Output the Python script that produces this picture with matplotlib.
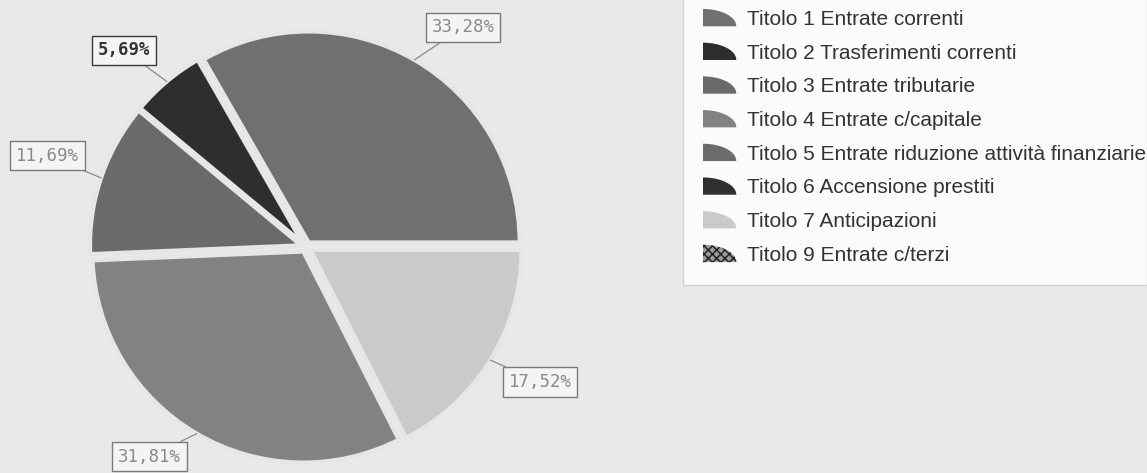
import matplotlib
matplotlib.use("Agg")
import matplotlib.pyplot as plt
from matplotlib.patches import Polygon, Patch, Rectangle
from matplotlib.legend_handler import HandlerPatch
import numpy as np

# dati
titoli = ["Titolo 1 Entrate correnti",
          "Titolo 2 Trasferimenti correnti",
          "Titolo 3 Entrate tributarie",
          "Titolo 4 Entrate c/capitale",
          "Titolo 5 Entrate riduzione attività finanziarie",
          "Titolo 6 Accensione prestiti",
          "Titolo 7 Anticipazioni",
          "Titolo 9 Entrate c/terzi"]
percentuali = [33.28, 5.69, 11.69, 31.81, 0.0, 0.0, 17.52, 0.0]
colori = ["#707070", "#2e2e2e", "#6a6a6a", "#828282", "#6c6c6c", "#303030", "#cacaca", "#5a5a5a"]

# spostamento etichette (gradi) e distanza dal centro
shift_ang = [-5.5, 2.7, -0.8, -6.4, 1.6]
dist_lab = [1.28, 1.27, 1.30, 1.24, 1.28]


class QuarterHandler(HandlerPatch):
    # icona a quarto di cerchio come nella legenda originale
    def create_artists(self, legend, orig_handle, xdescent, ydescent,
                       width, height, fontsize, trans):
        t = np.linspace(0, np.pi / 2, 25)
        x0, y0 = -xdescent, -ydescent
        pts = [(x0, y0)] + [(x0 + width * np.cos(a), y0 + height * np.sin(a)) for a in t]
        p = Polygon(pts, closed=True, facecolor=orig_handle.get_facecolor(),
                    edgecolor=orig_handle.get_edgecolor(), linewidth=0,
                    hatch=orig_handle.get_hatch(), transform=trans)
        return [p]


fig = plt.figure(figsize=(11.47, 4.73), dpi=100)
fig.patch.set_facecolor("#e9e9e9")

# riquadro bianco della legenda
fig.patches.append(Rectangle((683 / 1147, 1 - 285 / 473), 1 - 683 / 1147, 285 / 473 + 0.01,
                             transform=fig.transFigure, facecolor="#fbfbfb",
                             edgecolor="#d2d2d2", linewidth=1, zorder=0))

# assi centrati sulla torta (centro ~ 307,247 px, raggio ~212 px)
half = 238
cx, cy = 306, 247
ax = fig.add_axes([(cx - half) / 1147, (473 - cy - half) / 473, 2 * half / 1147, 2 * half / 473])

idx = [i for i, v in enumerate(percentuali) if v > 0]
vals = [percentuali[i] for i in idx]
cols = [colori[i] for i in idx]
ex = 0.025
wedges, _ = ax.pie(vals, colors=cols, startangle=0, counterclock=True,
                   explode=[ex] * len(vals), radius=1.0, frame=True,
                   wedgeprops=dict(edgecolor="#e6e6e6", linewidth=3))
ax.set_xlim(-half / 211, half / 211)
ax.set_ylim(-half / 211, half / 211)
ax.axis("off")

for k, (w, v) in enumerate(zip(wedges, vals)):
    mid = np.deg2rad((w.theta1 + w.theta2) / 2)
    ta = mid + np.deg2rad(shift_ang[k])
    xy = ((1.0 + ex) * np.cos(mid), (1.0 + ex) * np.sin(mid))
    xt = (dist_lab[k] * np.cos(ta), dist_lab[k] * np.sin(ta))
    scuro = v < 10
    ax.annotate(f"{v:.2f}%".replace(".", ","), xy=xy, xytext=xt,
                ha="center", va="center", fontsize=12.5,
                family="DejaVu Sans Mono",
                color="#333333" if scuro else "#8a8a8a",
                fontweight="bold" if scuro else "normal",
                bbox=dict(boxstyle="square,pad=0.33", facecolor="#f4f4f4",
                          edgecolor="#3a3a3a" if scuro else "#7a7a7a", linewidth=1),
                arrowprops=dict(arrowstyle="-", color="#8a8a8a", lw=0.9,
                                shrinkA=0, shrinkB=0),
                annotation_clip=False)

handles = []
for i, (t, c) in enumerate(zip(titoli, colori)):
    if i == len(titoli) - 1:
        handles.append(Patch(facecolor="#9a9a9a", edgecolor="#1e1e1e", hatch="xxxx", label=t))
    else:
        handles.append(Patch(facecolor=c, edgecolor=c, label=t))

fig.legend(handles=handles, loc="upper left",
           bbox_to_anchor=(703 / 1147, 1 - 9 / 473),
           frameon=False, borderpad=0, borderaxespad=0,
           handlelength=1.6, handleheight=0.9, handletextpad=0.5,
           labelspacing=0.665,
           prop=dict(family="Liberation Sans", size=15),
           labelcolor="#333333",
           handler_map={Patch: QuarterHandler()})

fig.savefig("out.png", dpi=100, facecolor=fig.get_facecolor())
